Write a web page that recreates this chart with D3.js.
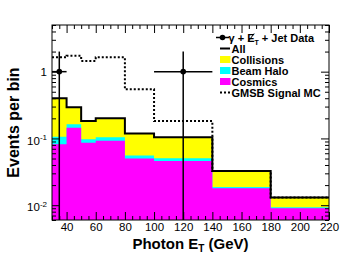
<!doctype html>
<html lang='en'>
<head>
<meta charset="utf-8">
<script src="https://d3js.org/d3.v7.min.js"></script>
<style>
  body { margin: 0; background: white; }
  svg { display: block; }
  .tick text { font-family: "Liberation Sans", Arial, sans-serif; font-size: 11.5px; fill: #000; }
  .tick line { stroke: #000; }
  .ttl { font-family: "Liberation Sans", Arial, sans-serif; font-weight: bold; fill: #000; }
  .leg { font-family: "Liberation Sans", Arial, sans-serif; font-weight: bold; font-size: 11px; fill: #000; }
</style>
</head>
<body>
<div id='chart'></div>
<script>
// bin edges in photon Et (GeV)
const binEdges = [30, 40, 50, 60, 80, 100, 140, 180, 220];

// stacked background estimates, events per bin
const cosmics    = [0.082, 0.145, 0.086, 0.092, 0.050, 0.046, 0.018, 0.009];
const beamHalo   = [0.024, 0.018, 0.011, 0.012, 0.0055, 0.0045, 0.0008, 0.0003];
const collisions = [0.293, 0.130, 0.085, 0.096, 0.0635, 0.0535, 0.0138, 0.0037];

// signal MC
const gmsbSignal = [1.64, 1.73, 1.45, 1.64, 0.544, 0.182, 0.0325, 0.0130];

// data points
const dataX     = [35, 120];
const dataY     = [1, 1];
const dataXErr  = [5, 20];
const dataYErrUp = [1, 1];

const xTickLabels = [40, 60, 80, 100, 120, 140, 160, 180, 200, 220];
const yTickValues = [0.01, 0.1, 1];
const yTickLabels = [['10', '-2'], ['10', '-1'], ['1', '']];

const W = 347, H = 260;
const pLeft = 52, pRight = 329, pTop = 25, pBottom = 220;

const svg = d3.select('#chart').append('svg')
  .attr('width', W).attr('height', H);

const x = d3.scaleLinear().domain([30, 220]).range([pLeft, pRight]);
const y = d3.scaleLog().domain([0.006, 5]).range([pBottom, pTop]);

// stacks
const cyanTop = cosmics.map((c, i) => c + beamHalo[i]);
const allTop = cyanTop.map((c, i) => c + collisions[i]);

function steps(vals) {
  return binEdges.map((e, i) => [e, vals[Math.min(i, vals.length - 1)]]);
}

const area = d3.area()
  .x(d => x(d[0])).y0(pBottom).y1(d => y(d[1]))
  .curve(d3.curveStepAfter);
const line = d3.line()
  .x(d => x(d[0])).y(d => y(d[1]))
  .curve(d3.curveStepAfter);

svg.append('path').attr('d', area(steps(allTop))).attr('fill', '#ffff00');
svg.append('path').attr('d', area(steps(cyanTop))).attr('fill', '#00ffff');
svg.append('path').attr('d', area(steps(cosmics))).attr('fill', '#ff00ff');

svg.append('path').attr('d', line(steps(allTop)))
  .attr('fill', 'none').attr('stroke', '#000').attr('stroke-width', 2);

svg.append('path').attr('d', line(steps(gmsbSignal)))
  .attr('fill', 'none').attr('stroke', '#000').attr('stroke-width', 2)
  .attr('stroke-dasharray', '2,2');

// data with errors
dataX.forEach((dx, i) => {
  const g = svg.append('g');
  g.append('line')
    .attr('x1', x(dx - dataXErr[i])).attr('x2', x(dx + dataXErr[i]))
    .attr('y1', y(dataY[i])).attr('y2', y(dataY[i]))
    .attr('stroke', '#000').attr('stroke-width', 1.5);
  const lo = dataY[i] - dataYErrUp[i];
  g.append('line')
    .attr('x1', x(dx)).attr('x2', x(dx))
    .attr('y1', y(dataY[i] + dataYErrUp[i]))
    .attr('y2', lo > 0 ? y(lo) : pBottom)
    .attr('stroke', '#000').attr('stroke-width', 1.5);
  g.append('circle').attr('cx', x(dx)).attr('cy', y(dataY[i])).attr('r', 2.8).attr('fill', '#000');
});

// axes (ticks inside like ROOT)
const xMinor = d3.range(30, 221, 5).filter(v => v % 20 !== 0);
const yMinor = [];
[0.001, 0.01, 0.1, 1].forEach(d => { for (let k = 2; k <= 9; k++) { const v = d * k; if (v >= 0.006 && v <= 5) yMinor.push(v); } });

function clean(g) { g.select('.domain').remove(); }

svg.append('g').attr('transform', `translate(0,${pBottom})`)
  .call(d3.axisBottom(x).tickValues(xTickLabels).tickSizeInner(-8).tickSizeOuter(0).tickPadding(3).tickFormat(d3.format('d')))
  .call(clean);
svg.append('g').attr('transform', `translate(0,${pBottom})`)
  .call(d3.axisBottom(x).tickValues(xMinor).tickSizeInner(-4).tickSizeOuter(0).tickFormat(''))
  .call(clean);
svg.append('g').attr('transform', `translate(0,${pTop})`)
  .call(d3.axisTop(x).tickValues(xTickLabels).tickSizeInner(-8).tickSizeOuter(0).tickFormat(''))
  .call(clean);
svg.append('g').attr('transform', `translate(0,${pTop})`)
  .call(d3.axisTop(x).tickValues(xMinor).tickSizeInner(-4).tickSizeOuter(0).tickFormat(''))
  .call(clean);

const yAx = svg.append('g').attr('transform', `translate(${pLeft},0)`)
  .call(d3.axisLeft(y).tickValues(yTickValues).tickSizeInner(-8).tickSizeOuter(0).tickPadding(5).tickFormat(''))
  .call(clean);
yAx.selectAll('.tick text').each(function(d, i) {
  const t = d3.select(this);
  const lab = yTickLabels[i];
  t.attr('dy', lab[1] ? '0.5em' : '0.32em');
  t.append('tspan').text(lab[0]);
  if (lab[1]) t.append('tspan').attr('dy', '-0.55em').attr('font-size', '8px').text(lab[1]);
});
svg.append('g').attr('transform', `translate(${pLeft},0)`)
  .call(d3.axisLeft(y).tickValues(yMinor).tickSizeInner(-4).tickSizeOuter(0).tickFormat(''))
  .call(clean);
svg.append('g').attr('transform', `translate(${pRight},0)`)
  .call(d3.axisRight(y).tickValues(yTickValues).tickSizeInner(-8).tickSizeOuter(0).tickFormat(''))
  .call(clean);
svg.append('g').attr('transform', `translate(${pRight},0)`)
  .call(d3.axisRight(y).tickValues(yMinor).tickSizeInner(-4).tickSizeOuter(0).tickFormat(''))
  .call(clean);

svg.append('rect')
  .attr('x', pLeft).attr('y', pTop).attr('width', pRight - pLeft).attr('height', pBottom - pTop)
  .attr('fill', 'none').attr('stroke', '#000').attr('stroke-width', 1);

// titles
const xt = svg.append('text').attr('class', 'ttl').attr('font-size', '15px')
  .attr('x', (pLeft + pRight) / 2).attr('y', 249).attr('text-anchor', 'middle');
xt.append('tspan').text('Photon E');
xt.append('tspan').attr('dy', 3).attr('font-size', '10px').text('T');
xt.append('tspan').attr('dy', -3).text(' (GeV)');

svg.append('text').attr('class', 'ttl').attr('font-size', '16px')
  .attr('transform', `translate(19,${(pTop + pBottom) / 2}) rotate(-90)`)
  .attr('text-anchor', 'middle').text('Events per bin');

// legend
const legX = 231.5, legY0 = 37.5, legDy = 11;
const leg = svg.append('g');
const entries = ['data', 'All', 'Collisions', 'Beam Halo', 'Cosmics', 'GMSB Signal MC'];
entries.forEach((e, i) => {
  const cy = legY0 + i * legDy;
  if (e === 'data') {
    leg.append('line').attr('x1', 216).attr('x2', 229).attr('y1', cy).attr('y2', cy).attr('stroke', '#000').attr('stroke-width', 1.5);
    leg.append('circle').attr('cx', 222.5).attr('cy', cy).attr('r', 2.8).attr('fill', '#000');
    const t = leg.append('text').attr('class', 'leg').attr('x', legX - 3).attr('y', cy + 4);
    t.append('tspan').text('\u03b3 + ');
    t.append('tspan').text('E');
    t.append('tspan').attr('dy', 3).attr('font-size', '7px').text('T');
    t.append('tspan').attr('dy', -3).text(' + Jet Data');
    const b = t.node().getExtentOfChar(4);
    leg.append('line')
      .attr('x1', b.x + b.width * 0.15).attr('y1', b.y + b.height - 2)
      .attr('x2', b.x + b.width * 0.95).attr('y2', b.y + 2)
      .attr('stroke', '#000').attr('stroke-width', 1);
    return;
  }
  if (e === 'All') {
    leg.append('line').attr('x1', 220).attr('x2', 230).attr('y1', cy).attr('y2', cy).attr('stroke', '#000').attr('stroke-width', 2);
  } else if (e === 'GMSB Signal MC') {
    leg.append('line').attr('x1', 220).attr('x2', 230).attr('y1', cy).attr('y2', cy).attr('stroke', '#000').attr('stroke-width', 2).attr('stroke-dasharray', '2,2');
  } else {
    const col = { 'Collisions': '#ffff00', 'Beam Halo': '#00ffff', 'Cosmics': '#ff00ff' }[e];
    leg.append('rect').attr('x', 220).attr('y', cy - 3.5).attr('width', 10.5).attr('height', 7).attr('fill', col);
  }
  leg.append('text').attr('class', 'leg').attr('x', legX).attr('y', cy + 4).text(e);
});
</script>
</body>
</html>
